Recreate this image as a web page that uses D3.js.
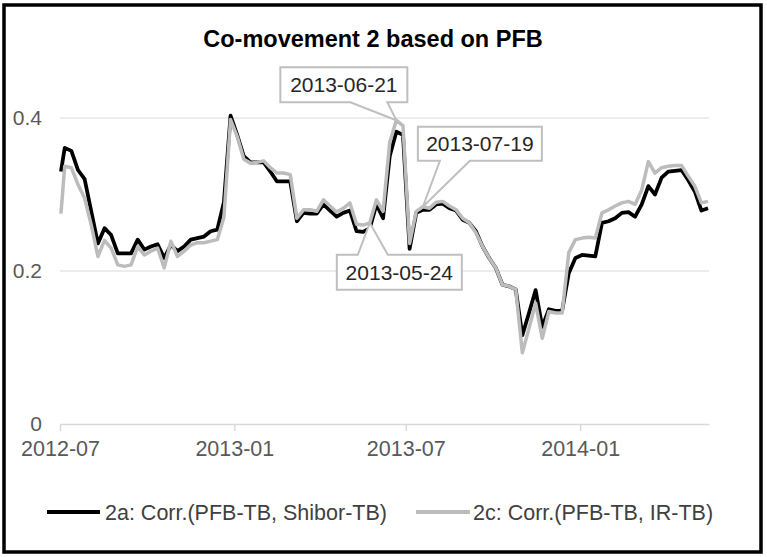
<!DOCTYPE html>
<html>
<head>
<meta charset="utf-8">
<script src="https://cdn.jsdelivr.net/npm/d3@7"></script>
<style>
    body { margin: 0; background: #fff; }
    text { font-family: "Liberation Sans", Arial, sans-serif; }
</style>
</head>
<body>
<svg id="chart" width="767" height="557"></svg>
<script>
// weekly series (Fridays), first value is the start of the window
const firstDate = new Date(2012, 6, 2)
const fridays = d3.timeFriday.range(new Date(2012, 6, 6), new Date(2014, 4, 17))
const dates = [firstDate].concat(fridays)

const series2a = [0.330,
    0.361, 0.357, 0.332, 0.320, 0.278, 0.236, 0.256, 0.247, 0.223, 0.223,
    0.223, 0.241, 0.228, 0.232, 0.235, 0.217, 0.234, 0.226, 0.232, 0.241,
    0.243, 0.245, 0.252, 0.254, 0.290, 0.403, 0.378, 0.350, 0.342, 0.342,
    0.342, 0.330, 0.317, 0.317, 0.317, 0.265, 0.276, 0.275, 0.275, 0.287,
    0.279, 0.271, 0.276, 0.279, 0.252, 0.251, 0.256, 0.287, 0.269, 0.350,
    0.382, 0.378, 0.229, 0.276, 0.280, 0.280, 0.287, 0.288, 0.282, 0.279,
    0.267, 0.263, 0.252, 0.232, 0.217, 0.204, 0.182, 0.180, 0.176, 0.116,
    0.145, 0.175, 0.127, 0.150, 0.148, 0.148, 0.197, 0.217, 0.221, 0.220,
    0.219, 0.263, 0.265, 0.269, 0.276, 0.277, 0.271, 0.287, 0.311, 0.300,
    0.322, 0.330, 0.331, 0.332, 0.319, 0.304, 0.279, 0.282]

const series2c = [0.275,
    0.337, 0.335, 0.313, 0.295, 0.260, 0.219, 0.240, 0.230, 0.208, 0.206,
    0.208, 0.232, 0.221, 0.226, 0.230, 0.204, 0.239, 0.219, 0.226, 0.234,
    0.237, 0.237, 0.239, 0.241, 0.270, 0.398, 0.376, 0.346, 0.341, 0.342,
    0.344, 0.335, 0.328, 0.328, 0.326, 0.269, 0.280, 0.280, 0.278, 0.293,
    0.285, 0.277, 0.282, 0.289, 0.261, 0.260, 0.263, 0.293, 0.278, 0.368,
    0.397, 0.390, 0.236, 0.278, 0.284, 0.282, 0.290, 0.291, 0.285, 0.280,
    0.269, 0.263, 0.250, 0.232, 0.217, 0.204, 0.182, 0.180, 0.176, 0.093,
    0.125, 0.158, 0.112, 0.147, 0.145, 0.145, 0.224, 0.241, 0.243, 0.244,
    0.243, 0.276, 0.280, 0.285, 0.289, 0.291, 0.287, 0.306, 0.343, 0.328,
    0.335, 0.337, 0.338, 0.338, 0.324, 0.311, 0.289, 0.291]

const seriesNames = ['2a: Corr.(PFB-TB, Shibor-TB)', '2c: Corr.(PFB-TB, IR-TB)']
const yTicks = [0, 0.2, 0.4]
const xTicks = ['2012-07-01', '2013-01-01', '2013-07-01', '2014-01-01']
const calloutDates = ['2013-06-21', '2013-07-19', '2013-05-24']

const title = 'Co-movement 2 based on PFB'

const parse = d3.timeParse('%Y-%m-%d')
const svg = d3.select('#chart')

svg.append('rect')
    .attr('x', 4).attr('y', 5)
    .attr('width', 757).attr('height', 547)
    .attr('fill', 'white')
    .attr('stroke', 'black')
    .attr('stroke-width', 3.5)

svg.append('text')
    .attr('x', 373).attr('y', 47)
    .attr('text-anchor', 'middle')
    .style('font-size', '23.5px')
    .style('font-weight', 'bold')
    .attr('fill', '#000')
    .text(title)

let x = d3.scaleTime()
    .domain([new Date(2012, 6, 1), new Date(2014, 4, 17)])
    .range([60, 709])

let y = d3.scaleLinear()
    .domain([0, 0.4])
    .range([424, 118])

// gridlines
svg.append('g')
    .selectAll('line')
    .data(yTicks.filter(d => d > 0))
    .join('line')
    .attr('x1', 60).attr('x2', 709)
    .attr('y1', d => y(d)).attr('y2', d => y(d))
    .attr('stroke', '#d9d9d9')
    .attr('stroke-width', 1)

// x axis
let xAxis = svg.append('g')
    .attr('transform', `translate(0,${y(0)})`)
    .call(d3.axisBottom(x)
        .tickValues(xTicks.map(parse))
        .tickFormat(d3.timeFormat('%Y-%m'))
        .tickSizeInner(7)
        .tickSizeOuter(0)
        .tickPadding(10))
xAxis.select('.domain').attr('stroke', '#d9d9d9').attr('stroke-width', 1.5)
xAxis.selectAll('.tick line').attr('stroke', '#d9d9d9').attr('stroke-width', 1.5)
xAxis.selectAll('.tick text')
    .attr('fill', '#595959')
    .style('font-size', '21.5px')
    .style('font-family', '"Liberation Sans", Arial, sans-serif')

// y labels
let yAxis = svg.append('g')
    .attr('transform', 'translate(60,0)')
    .call(d3.axisLeft(y)
        .tickValues(yTicks)
        .tickFormat(d => d === 0 ? '0' : d3.format('.1f')(d))
        .tickSize(0)
        .tickPadding(18))
yAxis.select('.domain').remove()
yAxis.selectAll('.tick text')
    .attr('fill', '#595959')
    .style('font-size', '21px')
    .style('font-family', '"Liberation Sans", Arial, sans-serif')

// lines
let line = d3.line()
    .x((d, i) => x(dates[i]))
    .y(d => y(d))

svg.append('path')
    .datum(series2a)
    .attr('d', line)
    .attr('fill', 'none')
    .attr('stroke', '#000')
    .attr('stroke-width', 3.75)
    .attr('stroke-linejoin', 'round')

svg.append('path')
    .datum(series2c)
    .attr('d', line)
    .attr('fill', 'none')
    .attr('stroke', '#bcbcbc')
    .attr('stroke-width', 3.5)
    .attr('stroke-linejoin', 'round')

// callouts (box offsets relative to the data point)
const calloutLayout = [
    { left: -116, top: -53, w: 127, h: 35, b1: -46, b2: -9 },
    { left: -5, top: -80, w: 124, h: 34, b1: 17, b2: 47 },
    { left: -33, top: 32, w: 125, h: 35, b1: -12, b2: 18 },
]

calloutDates.forEach((ds, i) => {
    let dt = parse(ds)
    let idx = dates.findIndex(d => +d === +dt)
    let px = x(dt)
    let py = y(series2c[idx])
    let L = calloutLayout[i]
    let x0 = px + L.left, y0 = py + L.top, x1 = x0 + L.w, y1 = y0 + L.h
    let pts
    if (L.top < 0) {
        pts = [[x0, y0], [x1, y0], [x1, y1], [px + L.b2, y1], [px, py], [px + L.b1, y1], [x0, y1]]
    } else {
        pts = [[x0, y0], [px + L.b1, y0], [px, py], [px + L.b2, y0], [x1, y0], [x1, y1], [x0, y1]]
    }
    svg.append('path')
        .attr('d', 'M' + pts.map(p => p.join(',')).join('L') + 'Z')
        .attr('fill', 'white')
        .attr('stroke', '#bfbfbf')
        .attr('stroke-width', 2)
    svg.append('text')
        .attr('x', (x0 + x1) / 2)
        .attr('y', (y0 + y1) / 2)
        .attr('dy', '0.36em')
        .attr('text-anchor', 'middle')
        .attr('fill', '#262626')
        .style('font-size', '21px')
        .text(ds)
})

// legend
const legendItems = [
    { name: seriesNames[0], color: '#000', x1: 47, x2: 100, tx: 105 },
    { name: seriesNames[1], color: '#bcbcbc', x1: 416, x2: 470, tx: 473 },
]
let legend = svg.append('g')
legend.selectAll('line')
    .data(legendItems)
    .join('line')
    .attr('x1', d => d.x1).attr('x2', d => d.x2)
    .attr('y1', 512).attr('y2', 512)
    .attr('stroke', d => d.color)
    .attr('stroke-width', 4)
legend.selectAll('text')
    .data(legendItems)
    .join('text')
    .attr('x', d => d.tx)
    .attr('y', 519.5)
    .attr('fill', '#404040')
    .style('font-size', '21.5px')
    .text(d => d.name)
</script>
</body>
</html>
